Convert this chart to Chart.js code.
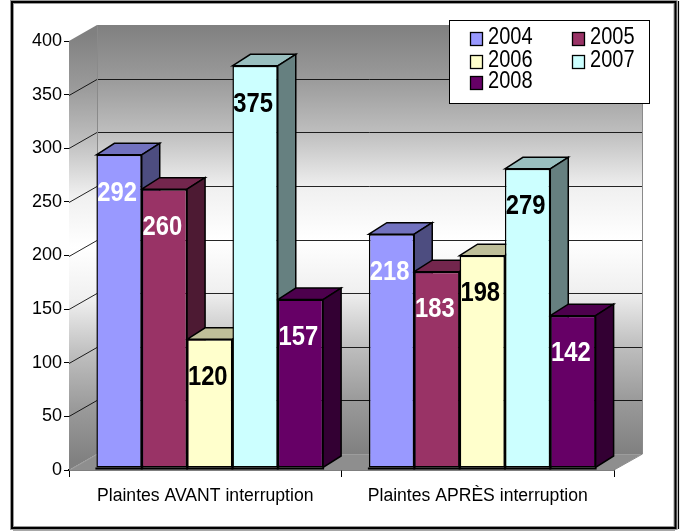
<!DOCTYPE html>
<html lang="fr">
<head>
    <meta charset="UTF-8">
    <title>Plaintes avant / après interruption</title>
    <script src="https://cdn.jsdelivr.net/npm/chart.js"></script>
    <style>
        html, body { margin: 0; padding: 0; background: #fff; overflow: hidden; }
        canvas { display: block; }
    </style>
</head>
<body>
    <canvas id="chart" width="683" height="531"></canvas>
    <script>
        const categories = ['Plaintes AVANT interruption', 'Plaintes APRÈS interruption'];
        const years = ['2004', '2005', '2006', '2007', '2008'];
        const values2004 = [292, 218];
        const values2005 = [260, 183];
        const values2006 = [120, 198];
        const values2007 = [375, 279];
        const values2008 = [157, 142];
        const allValues = [values2004, values2005, values2006, values2007, values2008];

        const frontColors = ['#9999ff', '#993366', '#ffffcc', '#ccffff', '#660066'];
        const topColors = ['#7272bf', '#73264d', '#bfbf99', '#99bfbf', '#4d004d'];
        const sideColors = ['#4d4d80', '#4d1a33', '#808066', '#668080', '#330033'];
        const labelColors = ['#fff', '#fff', '#000', '#000', '#fff'];

        // décalage de la face avant par rapport aux axes, et profondeur 3D
        const faceX = 4.5, faceY = -2;
        const barDepthX = 18, barDepthY = -11.5;
        const wallX = 28, wallY = -16;

        function wallGradient(ctx, top, bottom) {
            const g = ctx.createLinearGradient(0, top, 0, bottom);
            g.addColorStop(0, '#808080');
            g.addColorStop(0.125, '#9a9a9a');
            g.addColorStop(0.25, '#bebebe');
            g.addColorStop(0.38, '#f0f0f0');
            g.addColorStop(0.5, '#ffffff');
            g.addColorStop(0.62, '#f0f0f0');
            g.addColorStop(0.75, '#bebebe');
            g.addColorStop(0.875, '#9a9a9a');
            g.addColorStop(1, '#808080');
            return g;
        }

        function poly(ctx, pts, fill, stroke, lw) {
            ctx.beginPath();
            pts.forEach((p, i) => i ? ctx.lineTo(p[0], p[1]) : ctx.moveTo(p[0], p[1]));
            ctx.closePath();
            if (fill) { ctx.fillStyle = fill; ctx.fill(); }
            if (stroke) { ctx.strokeStyle = stroke; ctx.lineWidth = lw; ctx.stroke(); }
        }

        const walls3d = {
            id: 'walls3d',
            beforeDatasetsDraw(chart) {
                const ctx = chart.ctx;
                const { left, right, top, bottom } = chart.chartArea;
                const y = chart.scales.y;

                // murs et sol
                ctx.save();
                poly(ctx, [[left, top], [left + wallX, top + wallY], [left + wallX, bottom + wallY], [left, bottom]],
                    wallGradient(ctx, top + wallY / 2, bottom + wallY / 2));
                ctx.fillStyle = wallGradient(ctx, top + wallY, bottom + wallY);
                ctx.fillRect(left + wallX, top + wallY, right - left, bottom - top);
                poly(ctx, [[left, bottom], [left + wallX, bottom + wallY], [right + wallX, bottom + wallY], [right, bottom]], '#8e8e8e');

                // quadrillage
                y.ticks.forEach(t => {
                    const py = Math.round(y.getPixelForValue(t.value)) + 0.5;
                    ctx.beginPath();
                    ctx.moveTo(left, py);
                    ctx.lineTo(left + wallX, py + wallY);
                    ctx.lineTo(right + wallX, py + wallY);
                    ctx.strokeStyle = t.value === 0 ? '#9c9c9c' : (t.value === 400 ? 'rgba(0,0,0,0)' : 'rgba(0,0,0,0.85)');
                    ctx.lineWidth = 1;
                    ctx.stroke();
                });
                ctx.strokeStyle = '#8a8a8a';
                ctx.lineWidth = 1;
                ctx.beginPath();
                ctx.moveTo(left + wallX + 0.5, top + wallY);
                ctx.lineTo(left + wallX + 0.5, bottom + wallY);
                ctx.moveTo(right + wallX + 0.5, top + wallY);
                ctx.lineTo(right + wallX + 0.5, bottom + wallY);
                ctx.lineTo(right, bottom);
                ctx.stroke();

                // dessus et côtés des barres
                ctx.lineJoin = 'miter';
                chart.data.datasets.forEach((ds, i) => {
                    chart.getDatasetMeta(i).data.forEach(bar => {
                        const x1 = bar.x - bar.width / 2 + faceX, x2 = bar.x + bar.width / 2 + faceX;
                        const yt = bar.y + faceY, yb = bar.base + faceY;
                        poly(ctx, [[x1, yt], [x1 + barDepthX, yt + barDepthY], [x2 + barDepthX, yt + barDepthY], [x2, yt]], topColors[i], '#000', 1.5);
                        poly(ctx, [[x2, yt], [x2 + barDepthX, yt + barDepthY], [x2 + barDepthX, yb + barDepthY], [x2, yb]], sideColors[i], '#000', 1.5);
                        // trait épais sous la barre, jusqu'à l'axe
                        ctx.fillStyle = '#000';
                        ctx.fillRect(x1 - 1, yb, x2 - x1 + 2, 2);
                    });
                });
                ctx.restore();

                // les faces avant, dessinées par Chart.js, sont décalées elles aussi
                ctx.save();
                ctx.translate(faceX, faceY);
            },
            afterDatasetsDraw(chart) {
                const ctx = chart.ctx;
                ctx.restore();

                // étiquettes de valeur (Arial gras un peu condensé)
                ctx.save();
                ctx.font = 'bold 28px "Liberation Sans"';
                ctx.textAlign = 'center';
                ctx.textBaseline = 'middle';
                chart.data.datasets.forEach((ds, i) => {
                    chart.getDatasetMeta(i).data.forEach((bar, j) => {
                        ctx.save();
                        ctx.translate(bar.x + faceX - 2, bar.y + faceY + 38);
                        ctx.scale(0.85, 1);
                        ctx.fillStyle = labelColors[i];
                        ctx.fillText(String(ds.data[j]), 0, 0);
                        ctx.restore();
                    });
                });
                ctx.restore();
            },
            afterDraw(chart) {
                const ctx = chart.ctx;
                ctx.save();

                // légende
                ctx.fillStyle = '#fff';
                ctx.fillRect(449.5, 20.5, 200, 83);
                ctx.strokeStyle = '#000';
                ctx.lineWidth = 1;
                ctx.strokeRect(449.5, 20.5, 200, 83);
                const colX = [470.5, 572.5], rowY = [32.5, 55.5, 76.5];
                ctx.textBaseline = 'middle';
                ctx.textAlign = 'left';
                years.forEach((label, i) => {
                    const cx = colX[i % 2], cy = rowY[Math.floor(i / 2)];
                    ctx.fillStyle = frontColors[i];
                    ctx.fillRect(cx, cy, 12, 13);
                    ctx.strokeStyle = '#000';
                    ctx.lineWidth = 1.3;
                    ctx.strokeRect(cx, cy, 12, 13);
                    ctx.save();
                    ctx.translate(cx + 17.5, cy + 5);
                    ctx.scale(0.87, 1);
                    ctx.font = '23px "Liberation Sans"';
                    ctx.fillStyle = '#000';
                    ctx.fillText(label, 0, 0);
                    ctx.restore();
                });

                // cadre
                ctx.fillStyle = '#a8a8a8';
                ctx.fillRect(13, 529, 662, 2);
                ctx.strokeStyle = '#999';
                ctx.lineWidth = 4;
                ctx.strokeRect(12, 2, 663.5, 526);
                ctx.strokeStyle = '#000';
                ctx.lineWidth = 2;
                ctx.strokeRect(12, 2, 663.5, 526);
                ctx.lineWidth = 1.2;
                ctx.beginPath();
                ctx.moveTo(678.5, 1);
                ctx.lineTo(678.5, 529);
                ctx.stroke();
                ctx.restore();
            }
        };

        new Chart(document.getElementById('chart'), {
            type: 'bar',
            data: {
                labels: categories,
                datasets: years.map((label, i) => ({
                    label: label,
                    data: allValues[i],
                    backgroundColor: frontColors[i],
                    borderColor: '#000',
                    borderWidth: 1.5,
                    borderSkipped: false
                }))
            },
            options: {
                responsive: false,
                animation: false,
                categoryPercentage: 0.832,
                barPercentage: 1,
                layout: { padding: { left: 0, right: 69, top: 41, bottom: 0 } },
                plugins: { legend: { display: false }, tooltip: { enabled: false } },
                scales: {
                    x: {
                        afterFit: s => { s.height = 61; },
                        grid: { drawOnChartArea: false, color: '#000', tickLength: 7 },
                        border: { color: '#000', width: 1.5 },
                        ticks: { color: '#000', padding: 9, font: { family: 'Liberation Sans', size: 17.6 }, maxRotation: 0 }
                    },
                    y: {
                        min: 0,
                        max: 400,
                        afterFit: s => { s.width = 69; },
                        grid: { drawOnChartArea: false, color: '#000', tickLength: 5 },
                        border: { color: '#000', width: 1 },
                        ticks: { stepSize: 50, color: '#000', padding: 2, font: { family: 'Liberation Sans', size: 18 } }
                    }
                }
            },
            plugins: [walls3d]
        });
    </script>
</body>
</html>
